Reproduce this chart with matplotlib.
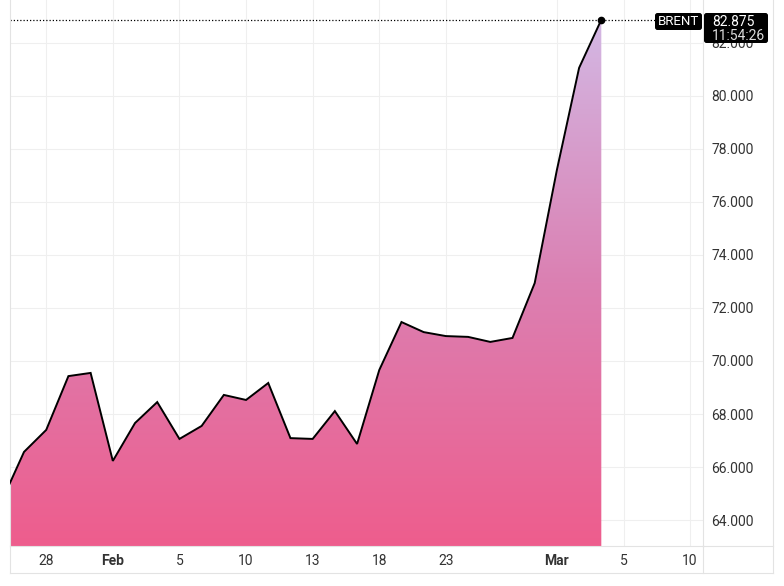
import numpy as np
import matplotlib
matplotlib.use('Agg')
import matplotlib.pyplot as plt
from matplotlib.colors import LinearSegmentedColormap
from matplotlib.lines import Line2D
from matplotlib.patches import FancyBboxPatch

plt.rcParams['font.family'] = ['Roboto', 'DejaVu Sans']

# Brent daily closes (trading days)
dates = ['2026-01-26', '2026-01-27', '2026-01-28', '2026-01-29', '2026-01-30',
         '2026-02-02', '2026-02-03', '2026-02-04', '2026-02-05', '2026-02-06',
         '2026-02-09', '2026-02-10', '2026-02-11', '2026-02-12', '2026-02-13',
         '2026-02-16', '2026-02-17', '2026-02-18', '2026-02-19', '2026-02-20',
         '2026-02-23', '2026-02-24', '2026-02-25', '2026-02-26', '2026-02-27',
         '2026-03-02', '2026-03-03', '2026-03-04']
prices = [64.72, 66.57, 67.40, 69.43, 69.55,
          66.23, 67.66, 68.45, 67.06, 67.55,
          68.72, 68.53, 69.17, 67.09, 67.06,
          68.11, 66.87, 69.66, 71.47, 71.09,
          70.94, 70.91, 70.72, 70.87, 72.94,
          77.21, 81.06, 82.875]

tick_dates = ['2026-01-28', '2026-02-02', '2026-02-05', '2026-02-10', '2026-02-13',
              '2026-02-18', '2026-02-23', '2026-03-02', '2026-03-05', '2026-03-10']
tick_labels = ['28', 'Feb', '5', '10', '13', '18', '23', 'Mar', '5', '10']
bold_labels = ['Feb', 'Mar']
y_ticks = [64, 66, 68, 70, 72, 74, 76, 78, 80, 82]

last_price = 82.875
last_time = '11:54:26'
name = 'BRENT'

W, H = 784, 586
start = dates[0]
x = np.busday_count(start, dates)
xt = np.busday_count(start, tick_dates)
y = np.array(prices)

fig = plt.figure(figsize=(W / 100, H / 100), dpi=100)
ax = fig.add_axes([10 / W, 40 / H, 693 / W, 546 / H])
ymin, ymax = 63.02, 83.62
xmin, xmax = 0.369, 31.58

# gradient fill under the line
cmap = LinearSegmentedColormap.from_list('brent', ['#ee5d8d', '#db80b2', '#d3b8e4'])
grad = np.linspace(0, 1, 256).reshape(-1, 1)
fill = ax.fill_between(x, y, ymin, color='none', lw=0)
im = ax.imshow(grad, extent=[x[0], x[-1], ymin, y.max()], aspect='auto',
               origin='lower', cmap=cmap, zorder=1)
im.set_clip_path(fill.get_paths()[0], transform=ax.transData)

ax.plot(x, y, color='black', lw=1.4, zorder=3, solid_joinstyle='miter')
ax.plot(x[-1], y[-1], 'o', color='black', ms=4.5, zorder=4)
ax.axhline(last_price, xmax=(655 - 10) / 693, color='black', lw=0.9,
           ls=(0, (1, 1.6)), zorder=2)

ax.set_xlim(xmin, xmax)
ax.set_ylim(ymin, ymax)

ax.set_xticks(xt)
ax.set_xticklabels(tick_labels)
for lab in ax.get_xticklabels():
    if lab.get_text() in bold_labels:
        lab.set_fontweight('bold')
ax.set_yticks(y_ticks)
ax.set_yticklabels(['%.3f' % v for v in y_ticks])
ax.yaxis.tick_right()
ax.tick_params(axis='both', length=0, labelsize=10, colors='#333333')
ax.tick_params(axis='x', pad=6)
ax.tick_params(axis='y', pad=6)

ax.grid(True, color='#efefef', lw=0.8, zorder=0)
ax.set_axisbelow(True)
ax.spines['top'].set_visible(False)
for side in ['left', 'bottom', 'right']:
    ax.spines[side].set_color('#e3e3e3')
    ax.spines[side].set_linewidth(0.8)

# frame around the time row and price scale
def px_line(x0, y0, x1, y1):
    fig.add_artist(Line2D([x0 / W, x1 / W], [1 - y0 / H, 1 - y1 / H],
                          color='#e3e3e3', lw=0.8, transform=fig.transFigure))

px_line(10, 546, 10, 573)
px_line(10, 573, 773, 573)
px_line(703, 546, 703, 573)
px_line(773, 0, 773, 573)
px_line(703, 546, 773, 546)

# last value labels
def px_box(x0, y0, x1, y1):
    box = FancyBboxPatch((x0 / 100, (H - y1) / 100), (x1 - x0) / 100, (y1 - y0) / 100,
                         boxstyle='round,pad=0,rounding_size=0.025',
                         fc='black', ec='none', transform=fig.dpi_scale_trans, zorder=10)
    fig.add_artist(box)

px_box(655, 13, 702, 30)
px_box(704, 13, 768, 43)
fig.text(678.5 / W, 1 - 21.5 / H, name, color='white', fontsize=9.5,
         ha='center', va='center', zorder=11)
fig.text(712 / W, 1 - 22 / H, '%.3f' % last_price, color='white', fontsize=10,
         ha='left', va='center', zorder=11)
fig.text(712 / W, 1 - 35.5 / H, last_time, color='#dddddd', fontsize=10,
         ha='left', va='center', zorder=11)

fig.savefig('out.png', dpi=100)
